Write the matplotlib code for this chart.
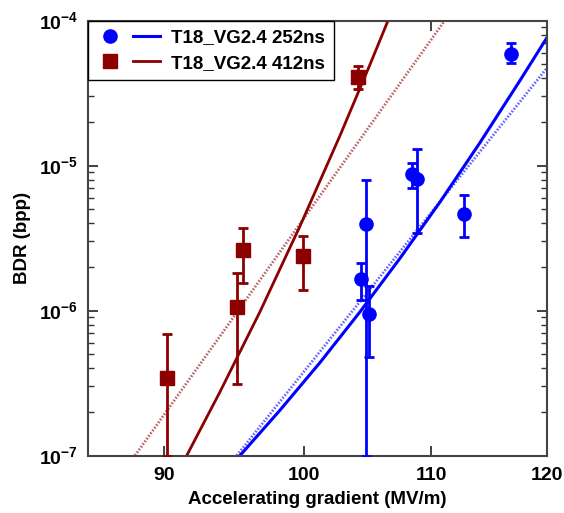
import matplotlib
matplotlib.use('Agg')
import matplotlib.pyplot as plt
from matplotlib.lines import Line2D
from matplotlib.legend_handler import HandlerTuple
from matplotlib.ticker import FixedLocator, FixedFormatter, NullFormatter, LogLocator, NullLocator
import numpy as np

plt.rcParams['font.family'] = ['Liberation Sans', 'DejaVu Sans']
plt.rcParams['font.weight'] = 'bold'
plt.rcParams['mathtext.fontset'] = 'custom'
plt.rcParams['mathtext.rm'] = 'Liberation Sans'
plt.rcParams['mathtext.bf'] = 'Liberation Sans:bold'

BLUE = '#0000ff'
RED = '#8c0000'

# 252 ns measurements
grad_252 = [104.4, 104.74, 104.98, 108.48, 108.86, 112.77, 116.8]
bdr_252 = [1.65e-6, 3.96e-6, 9.5e-7, 8.77e-6, 8.1e-6, 4.64e-6, 5.86e-5]
hi_252 = [2.12e-6, 7.96e-6, 1.47e-6, 1.04e-5, 1.30e-5, 6.28e-6, 6.98e-5]
lo_252 = [1.19e-6, 1.0e-7, 4.8e-7, 6.98e-6, 3.42e-6, 3.19e-6, 5.08e-5]

# 412 ns measurements
grad_412 = [90.18, 95.07, 95.5, 99.9, 104.1]
bdr_412 = [3.42e-7, 1.05e-6, 2.62e-6, 2.38e-6, 4.07e-5]
hi_412 = [6.9e-7, 1.81e-6, 3.7e-6, 3.27e-6, 4.82e-5]
lo_412 = [1.0e-7, 3.1e-7, 1.56e-6, 1.39e-6, 3.37e-5]

# fit curves
fit_exp_252_x = [95.29, 98.19, 101.19, 104.27, 107.45, 110.73, 114.11, 117.59, 120.0]
fit_exp_252_y = [1.0e-7, 2.05e-7, 4.37e-7, 9.75e-7, 2.28e-6, 5.57e-6, 1.43e-5, 3.83e-5, 7.57e-5]
fit_pow_252_x = [95.06, 100.05, 120.0]
fit_pow_252_y = [1.0e-7, 3.86e-7, 4.68e-5]

fit_exp_412_x = [91.55, 93.86, 96.73, 99.68, 102.72, 105.06, 106.51]
fit_exp_412_y = [1.0e-7, 2.74e-7, 9.8e-7, 3.81e-6, 1.60e-5, 4.94e-5, 1.0e-4]
fit_pow_412_x = [88.06, 100.0, 111.15]
fit_pow_412_y = [1.0e-7, 4.35e-6, 1.0e-4]

fig = plt.figure(figsize=(5.64, 5.13), dpi=100)
ax = fig.add_axes([0.156, 0.112, 0.8133, 0.848])
ax.set_xscale('log')
ax.set_yscale('log')

def errbar(x, y, lo, hi, color, marker):
    y = np.array(y)
    yerr = [y - np.array(lo), np.array(hi) - y]
    ax.errorbar(x, y, yerr=yerr, fmt=marker, color=color, ms=9.5, mec=color,
                elinewidth=2, capsize=3.5, capthick=2, zorder=3)

errbar(grad_252, bdr_252, lo_252, hi_252, BLUE, 'o')
errbar(grad_412, bdr_412, lo_412, hi_412, RED, 's')

ax.plot(fit_exp_252_x, fit_exp_252_y, color=BLUE, lw=2.2, zorder=2)
ax.plot(fit_pow_252_x, fit_pow_252_y, color=BLUE, lw=2.0, ls=(0, (0.6, 0.6)), alpha=0.6, zorder=2)
ax.plot(fit_exp_412_x, fit_exp_412_y, color=RED, lw=2.0, zorder=2)
ax.plot(fit_pow_412_x, fit_pow_412_y, color=RED, lw=2.0, ls=(0, (0.6, 0.6)), alpha=0.6, zorder=2)

ax.set_xlim(85, 120)
ax.set_ylim(1e-7, 1e-4)

xt = [90, 100, 110, 120]
ax.xaxis.set_major_locator(FixedLocator(xt))
ax.xaxis.set_major_formatter(FixedFormatter([str(v) for v in xt]))
ax.xaxis.set_minor_locator(NullLocator())

yt = [1e-7, 1e-6, 1e-5, 1e-4]
ax.yaxis.set_major_locator(FixedLocator(yt))
ax.yaxis.set_major_formatter(FixedFormatter([r'$\mathbf{10^{-7}}$', r'$\mathbf{10^{-6}}$',
                                             r'$\mathbf{10^{-5}}$', r'$\mathbf{10^{-4}}$']))
ax.yaxis.set_minor_locator(LogLocator(base=10, subs=np.arange(2, 10), numticks=20))
ax.yaxis.set_minor_formatter(NullFormatter())

ax.tick_params(which='both', direction='in', top=True, right=True, labelsize=14, colors='#333333',
               labelcolor='black')
ax.tick_params(which='major', length=7, width=1.3)
ax.tick_params(which='minor', length=4, width=1.0)
ax.tick_params(axis='x', pad=8)
ax.tick_params(axis='y', pad=7)
for s in ax.spines.values():
    s.set_color('#444444')
    s.set_linewidth(1.5)

ax.set_xlabel('Accelerating gradient (MV/m)', fontsize=13.5, fontweight='bold', labelpad=5)
ax.set_ylabel('BDR (bpp)', fontsize=13.5, fontweight='bold', labelpad=6)

h252 = (Line2D([], [], marker='o', ls='none', color=BLUE, ms=9.5),
        Line2D([], [], color=BLUE, lw=2.2))
h412 = (Line2D([], [], marker='s', ls='none', color=RED, ms=9.5),
        Line2D([], [], color=RED, lw=2.0))
leg = ax.legend([h252, h412], ['T18_VG2.4 252ns', 'T18_VG2.4 412ns'],
                handler_map={tuple: HandlerTuple(ndivide=None, pad=0.5)},
                loc='upper left', borderaxespad=0, fancybox=False, framealpha=1,
                edgecolor='black', handlelength=3.4, handletextpad=0.6,
                borderpad=0.45, labelspacing=0.45, prop={'weight': 'bold', 'size': 13.5})
leg.get_frame().set_linewidth(1.0)

fig.savefig('out.png', dpi=100)
